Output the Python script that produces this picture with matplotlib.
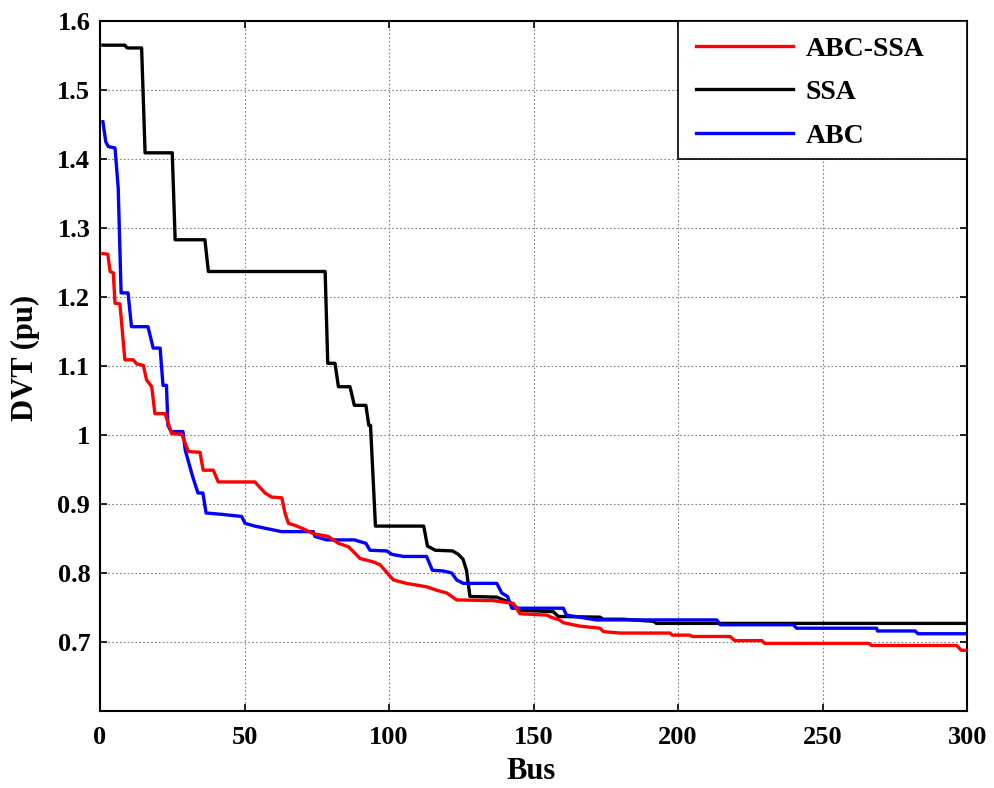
import matplotlib
matplotlib.use("Agg")
import matplotlib.pyplot as plt
from matplotlib.patches import Rectangle

# ABC-SSA (red)
abcssa_bus = [1, 2.7, 3.5, 4.6, 5.2, 6.9, 8.6, 11.5, 12.7, 15, 16.1, 17.9, 19, 22.5, 24.8, 28.3,
              30.6, 34.6, 35.7, 39.2, 40.9, 53.6, 57.1, 59.4, 62.9, 64, 65.2, 67.5, 70.4, 73.8,
              79, 82.5, 86, 90, 94.6, 96.9, 101.5, 106, 113, 116.5, 120, 123.4, 136, 143, 145.3,
              154.6, 156, 159, 160.3, 166, 173, 174.2, 180, 197.2, 198, 204, 205, 218, 219.6,
              229, 230, 265.9, 267, 296.4, 298, 300]
abcssa_dvt = [1.263, 1.262, 1.237, 1.235, 1.191, 1.19, 1.109, 1.109, 1.103, 1.101, 1.08, 1.07, 1.031,
              1.031, 1.002, 1.001, 0.976, 0.975, 0.949, 0.949, 0.932, 0.932, 0.916, 0.91, 0.909,
              0.887, 0.872, 0.869, 0.864, 0.857, 0.853, 0.843, 0.838, 0.821, 0.816, 0.812, 0.79,
              0.785, 0.78, 0.775, 0.771, 0.761, 0.76, 0.756, 0.741, 0.739, 0.736, 0.732, 0.728,
              0.723, 0.72, 0.715, 0.713, 0.713, 0.71, 0.71, 0.708, 0.708, 0.702, 0.702, 0.698,
              0.698, 0.695, 0.695, 0.688, 0.688]

# SSA (black)
ssa_bus = [1, 8.6, 9.4, 14.4, 15.6, 25, 26, 36.3, 37.5, 77.9, 78.8, 81.3, 82.5, 86.5, 88, 92, 93,
           93.6, 95.3, 112, 113.3, 116, 122, 124, 125.6, 126.8, 128, 137.3, 142, 143, 145.3,
           156.8, 158.6, 173, 174, 181, 191.5, 192.5, 300]
ssa_dvt = [1.565, 1.565, 1.561, 1.561, 1.409, 1.409, 1.283, 1.283, 1.237, 1.237, 1.104, 1.104,
           1.07, 1.07, 1.043, 1.043, 1.014, 1.014, 0.868, 0.868, 0.839, 0.833, 0.832, 0.827,
           0.82, 0.804, 0.766, 0.765, 0.757, 0.754, 0.746, 0.744, 0.737, 0.736, 0.733, 0.733,
           0.73, 0.727, 0.727]

# ABC (blue)
abc_bus = [1, 2, 2.9, 5.2, 6.3, 7.3, 9.7, 10.9, 16.6, 18.4, 20.8, 21.8, 23, 23.5, 24.6, 28.7,
           29.5, 31.9, 32.8, 33.9, 35.6, 36.7, 42.2, 49, 50.2, 53.6, 57, 62.8, 73.8, 74.4, 78.4,
           88, 92, 93.4, 99.2, 101, 105, 113, 115, 118.7, 121.7, 123.4, 125.7, 137.3, 139,
           141, 142.5, 148.8, 160.3, 161.4, 171.8, 213.4, 214.6, 239.9, 241, 268.7, 269, 282,
           283, 300]
abc_dvt = [1.454, 1.425, 1.418, 1.416, 1.358, 1.206, 1.206, 1.157, 1.157, 1.126, 1.126, 1.072,
           1.072, 1.014, 1.005, 1.005, 0.978, 0.942, 0.93, 0.916, 0.916, 0.887, 0.885, 0.882,
           0.872, 0.868, 0.865, 0.86, 0.86, 0.853, 0.848, 0.848, 0.843, 0.833, 0.832, 0.827,
           0.824, 0.824, 0.804, 0.803, 0.8, 0.79, 0.785, 0.785, 0.771, 0.766, 0.749, 0.749,
           0.749, 0.739, 0.732, 0.732, 0.725, 0.725, 0.72, 0.72, 0.716, 0.716, 0.712, 0.712]

x_ticks = [0, 50, 100, 150, 200, 250, 300]
y_ticks = [0.7, 0.8, 0.9, 1.0, 1.1, 1.2, 1.3, 1.4, 1.5, 1.6]
y_tick_labels = ["0.7", "0.8", "0.9", "1", "1.1", "1.2", "1.3", "1.4", "1.5", "1.6"]

plt.rcParams['font.family'] = ['Liberation Serif', 'DejaVu Serif']
plt.rcParams['font.weight'] = 'bold'

fig = plt.figure(figsize=(9.94, 7.88), dpi=100)
ax = fig.add_axes([0.1006, 0.0977, 0.8723, 0.8756])

lw = 2.4
ax.plot(abcssa_bus, abcssa_dvt, color='#ff0000', lw=lw, label='ABC-SSA', zorder=3)
ax.plot(ssa_bus, ssa_dvt, color='black', lw=lw, label='SSA', zorder=2)
ax.plot(abc_bus, abc_dvt, color='#0000ff', lw=lw, label='ABC', zorder=2.5)

ax.set_xlim(0, 300)
ax.set_ylim(0.6, 1.6)
ax.set_xticks(x_ticks)
ax.set_yticks(y_ticks)
ax.set_yticklabels(y_tick_labels)
ax.grid(True, color='#808080', linestyle=(0, (1.5, 2)), linewidth=0.8)
ax.tick_params(direction='in', top=True, right=True, labelsize=19, width=1.2, length=5)
ax.tick_params(axis='x', pad=11)
ax.tick_params(axis='y', pad=7)
for lab in ax.get_xticklabels() + ax.get_yticklabels():
    lab.set_fontweight('bold')
for s in ax.spines.values():
    s.set_linewidth(1.5)

ax.set_xlabel('Bus', fontsize=22, fontweight='bold')
ax.set_ylabel('DVT (pu)', fontsize=22, fontweight='bold')
ax.xaxis.set_label_coords(0.497, -0.066)
ax.yaxis.set_label_coords(-0.069, 0.512)

# legend frame (MATLAB-style wide box)
frame = Rectangle((0.6667, 0.8), 0.3333, 0.2, transform=ax.transAxes, facecolor='white',
                  edgecolor='black', linewidth=1.2, zorder=4)
ax.add_patch(frame)
leg = ax.legend(loc='upper left', bbox_to_anchor=(0.6667, 1.0 + 3 / 690), frameon=False,
                borderaxespad=0, prop={'size': 20, 'weight': 'bold'}, handlelength=3.5,
                labelspacing=0.65, borderpad=0.65, handletextpad=0.45)
leg.set_zorder(5)

fig.savefig('out.png', dpi=100)
